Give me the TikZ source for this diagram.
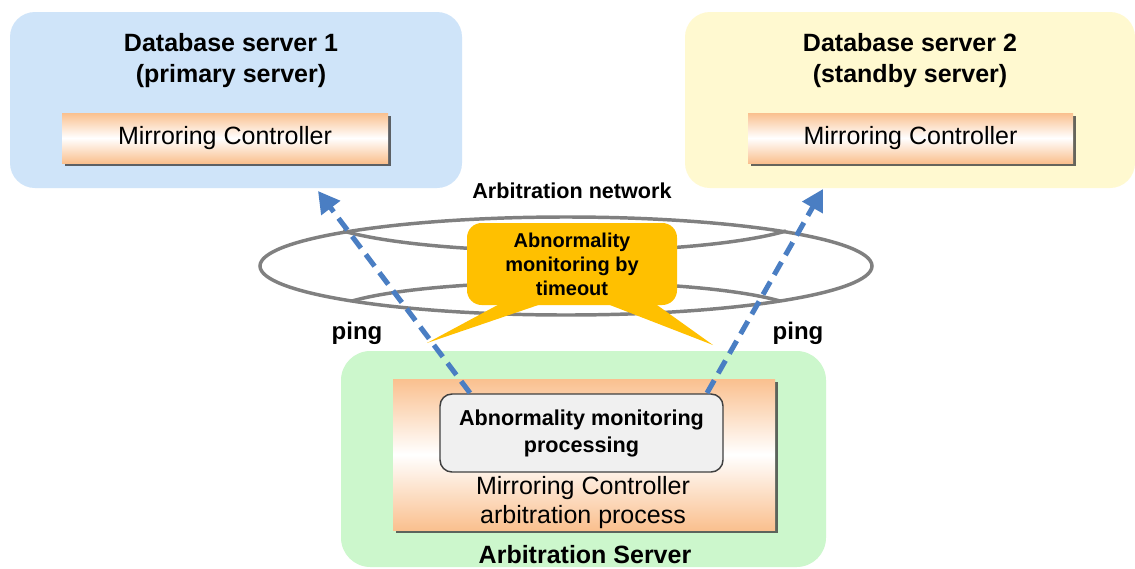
\documentclass[tikz,border=0pt]{standalone}
\usepackage{fontspec}
\setmainfont{Liberation Sans}
\usetikzlibrary{arrows.meta,shadows,positioning}
\definecolor{dbblue}{RGB}{207,228,249}
\definecolor{dbyellow}{RGB}{255,249,208}
\definecolor{arbgreen}{RGB}{204,247,204}
\definecolor{mcorange}{RGB}{250,192,143}
\definecolor{calloutorange}{RGB}{255,192,0}
\definecolor{pingblue}{RGB}{74,126,195}
\definecolor{ringgray}{RGB}{128,128,128}
\tikzset{
    mcbox/.style={rectangle, inner sep=0pt, top color=mcorange, bottom color=mcorange,
        middle color=white, drop shadow={shadow xshift=2.5pt, shadow yshift=-2.5pt, fill=black!75, opacity=0.8},
        font=\fontsize{18.75}{21.75}\selectfont, align=center},
    titletext/.style={align=center, font=\fontsize{18.75}{23.25}\selectfont\bfseries},
    proctext/.style={align=center, font=\fontsize{16.2}{20.25}\selectfont\bfseries},
    procbox/.style={proctext, draw=black!75, line width=1.1pt, fill=black!6, rounded corners=9pt, inner sep=0pt},
    calloutbox/.style={fill=calloutorange, rounded corners=11pt, inner sep=0pt, align=center,
        font=\fontsize{15}{18}\selectfont\bfseries},
    pinglabel/.style={font=\fontsize{18}{18}\selectfont\bfseries},
    ringline/.style={draw=ringgray, line width=2.6pt},
    pingarrow/.style={draw=pingblue, line width=3.8pt, dash pattern=on 11pt off 6pt,
        -{Triangle[width=17pt,length=16pt]}}
}
\begin{document}
\begin{tikzpicture}[x=0.75pt,y=-0.75pt]
    \useasboundingbox[fill=white] (0,0) rectangle (1135,568);
    \coordinate (S1) at (470,393);
    \coordinate (S2) at (707,393);
    \coordinate (T1) at (318,191);
    \coordinate (T2) at (823,189);

    \fill[dbblue, rounded corners=18.75pt] (10,12) rectangle (462,188);
    \fill[dbyellow, rounded corners=18.75pt] (685,12) rectangle (1135,188);
    \fill[arbgreen, rounded corners=22pt] (341,351) rectangle (826,567);

    \node[titletext] (db1) at (231,60.5) {Database server 1\\(primary server)};
    \node[titletext] (db2) at (910,60.5) {Database server 2\\(standby server)};
    \node[mcbox, minimum width=244.5pt, minimum height=37.5pt] (mc1) at (225,138) {Mirroring Controller};
    \node[mcbox, minimum width=243.75pt, minimum height=37.5pt] (mc2) at (910.5,138) {Mirroring Controller};

    \node[mcbox, minimum width=286.5pt, minimum height=113.25pt] (arbproc) at (584,454.5) {};
    \node[procbox, minimum width=212.25pt, minimum height=58.5pt] (monproc) at (581.5,433)
        {Abnormality monitoring\\processing};
    \node[align=center, font=\fontsize{18.75}{21.75}\selectfont] (arbtext) at (583,502.5)
        {Mirroring Controller\\arbitration process};
    \node[titletext] (arbsrv) at (585,555) {Arbitration Server};

    \node[proctext] (network) at (572,191) {Arbitration network};
    \draw[ringline] (566,266) ellipse [x radius=229.5pt, y radius=36.75pt];
    \draw[ringline] (343,231) .. controls (440,258) and (692,258) .. (786,231);
    \draw[ringline] (352,301) .. controls (440,276) and (692,276) .. (780,301);

    \fill[calloutorange] (507,300) -- (427,343) -- (553,300) -- cycle;
    \fill[calloutorange] (597,300) -- (713,345) -- (650,300) -- cycle;
    \node[calloutbox, minimum width=157.5pt, minimum height=61.5pt] (callout) at (572,264)
        {Abnormality\\monitoring by\\timeout};

    \node[pinglabel] (ping1) at (357,333) {ping};
    \node[pinglabel] (ping2) at (798,333) {ping};

    \draw[pingarrow] (S1) -- (T1);
    \draw[pingarrow] (S2) -- (T2);
\end{tikzpicture}
\end{document}
